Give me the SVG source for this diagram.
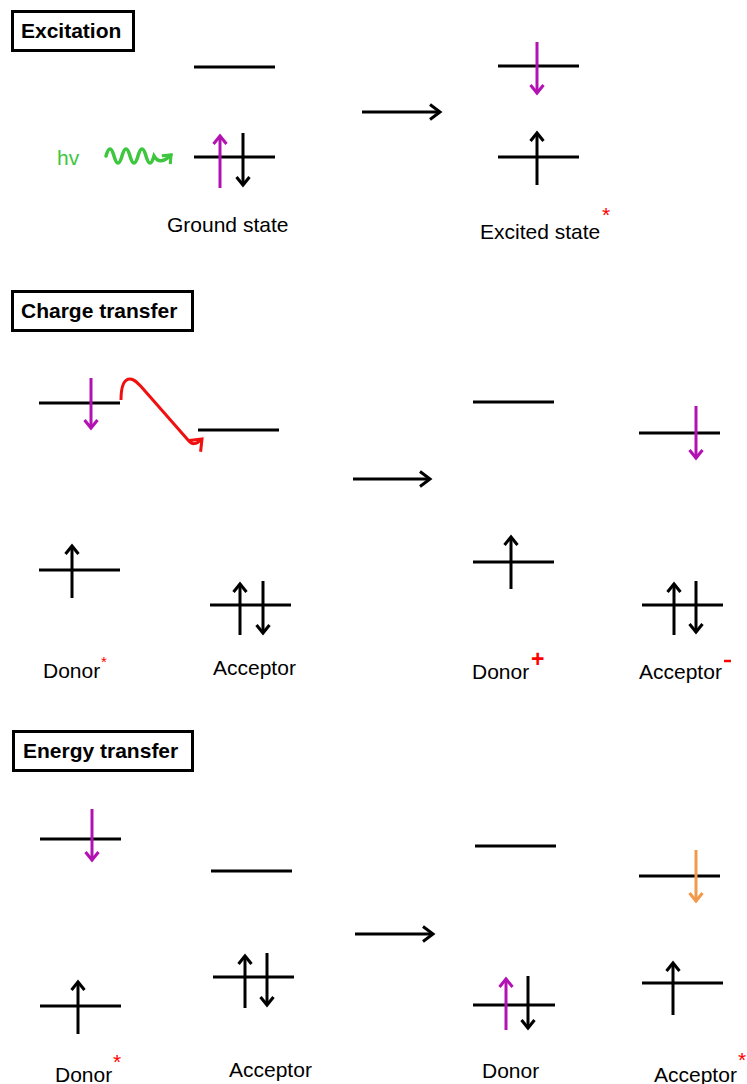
<svg xmlns="http://www.w3.org/2000/svg" width="747" height="1084" viewBox="0 0 747 1084">
  <style>
    .title { font-family: "Liberation Sans", Arial, sans-serif; font-weight: bold; font-size: 21px; fill: #000; }
    .label { font-family: "Liberation Sans", Arial, sans-serif; font-size: 21px; fill: #000; }
    .box { fill: #fff; stroke: #000; stroke-width: 3; }
    .lvl { stroke: #000; stroke-width: 3; fill: none; }
    .ek { stroke: #000; stroke-width: 3; fill: none; marker-end: url(#mk); }
    .ep { stroke: #b312b3; stroke-width: 3; fill: none; marker-end: url(#mp); }
    .eo { stroke: #f39a4a; stroke-width: 3; fill: none; marker-end: url(#mo); }
    .proc { stroke: #000; stroke-width: 3; fill: none; marker-end: url(#mbig); }
    .mark { font-family: "Liberation Sans", Arial, sans-serif; fill: #f00; }
  </style>
  <defs>
    <marker id="mk" markerUnits="userSpaceOnUse" viewBox="-12 -10 16 20" refX="0" refY="0" markerWidth="16" markerHeight="20" orient="auto" overflow="visible">
      <path d="M-8,-6.5 L0,0 L-8,6.5" fill="none" stroke="#000" stroke-width="3"/>
    </marker>
    <marker id="mp" markerUnits="userSpaceOnUse" viewBox="-12 -10 16 20" refX="0" refY="0" markerWidth="16" markerHeight="20" orient="auto" overflow="visible">
      <path d="M-8,-6.5 L0,0 L-8,6.5" fill="none" stroke="#b312b3" stroke-width="3"/>
    </marker>
    <marker id="mo" markerUnits="userSpaceOnUse" viewBox="-12 -10 16 20" refX="0" refY="0" markerWidth="16" markerHeight="20" orient="auto" overflow="visible">
      <path d="M-8,-6.5 L0,0 L-8,6.5" fill="none" stroke="#f39a4a" stroke-width="3"/>
    </marker>
    <marker id="mr" markerUnits="userSpaceOnUse" viewBox="-14 -12 18 24" refX="0" refY="0" markerWidth="18" markerHeight="24" orient="auto" overflow="visible">
      <path d="M-10,-8 L0,0 L-10,8" fill="none" stroke="#f01010" stroke-width="3"/>
    </marker>
    <marker id="mg" markerUnits="userSpaceOnUse" viewBox="-12 -10 16 20" refX="0" refY="0" markerWidth="16" markerHeight="20" orient="auto" overflow="visible">
      <path d="M-7,-6 L0,0 L-7,6" fill="none" stroke="#3ec63e" stroke-width="3"/>
    </marker>
    <marker id="mbig" markerUnits="userSpaceOnUse" viewBox="-14 -10 18 20" refX="0" refY="0" markerWidth="18" markerHeight="20" orient="auto" overflow="visible">
      <path d="M-10,-7.5 L0,0 L-10,7.5" fill="none" stroke="#000" stroke-width="3"/>
    </marker>
  </defs>

  <rect width="747" height="1084" fill="#fff"/>

  <!-- Section titles -->
  <g id="title-excitation">
    <rect class="box" x="12.5" y="11.5" width="121" height="39"/>
    <text class="title" x="21" y="38">Excitation</text>
  </g>
  <g id="title-charge-transfer">
    <rect class="box" x="12.5" y="291.5" width="180" height="39"/>
    <text class="title" x="21" y="318">Charge transfer</text>
  </g>
  <g id="title-energy-transfer">
    <rect class="box" x="13.5" y="731.5" width="179" height="39"/>
    <text class="title" x="23" y="758">Energy transfer</text>
  </g>

  <!-- Excitation -->
  <g id="hv">
    <text x="57" y="165" font-family="Liberation Sans, Arial, sans-serif" font-size="21" fill="#3ec63e">hv</text>
  </g>
  <g id="ground-state">
    <line class="lvl" x1="194" y1="67" x2="275" y2="67"/>
    <line class="lvl" x1="194" y1="157" x2="275" y2="157"/>
    <line class="ep" x1="220" y1="188" x2="220" y2="136"/>
    <line class="ek" x1="243" y1="133" x2="243" y2="185"/>
    <text class="label" x="167" y="232">Ground state</text>
  </g>
  <g id="excited-state">
    <line class="lvl" x1="498" y1="66" x2="579" y2="66"/>
    <line class="lvl" x1="498" y1="157" x2="579" y2="157"/>
    <line class="ep" x1="537" y1="42" x2="537" y2="93"/>
    <line class="ek" x1="537" y1="185" x2="537" y2="133"/>
    <text class="label" x="480" y="239">Excited state</text>
    <text class="mark" x="602" y="222" font-size="21">*</text>
  </g>

  <!-- Charge transfer, before -->
  <g id="ct-donor-excited">
    <line class="lvl" x1="39" y1="403" x2="120" y2="403"/>
    <line class="lvl" x1="39" y1="570" x2="120" y2="570"/>
    <line class="ep" x1="91" y1="378" x2="91" y2="428"/>
    <line class="ek" x1="72" y1="598" x2="72" y2="546"/>
    <text class="label" x="43" y="678">Donor</text>
    <text class="mark" x="101" y="667" font-size="15">*</text>
  </g>
  <g id="ct-acceptor">
    <line class="lvl" x1="198" y1="430" x2="279" y2="430"/>
    <line class="lvl" x1="210" y1="605" x2="291" y2="605"/>
    <line class="ek" x1="240" y1="635" x2="240" y2="584"/>
    <line class="ek" x1="263" y1="581" x2="263" y2="633"/>
    <text class="label" x="213" y="675">Acceptor</text>
  </g>

  <!-- Charge transfer, after -->
  <g id="ct-donor-cation">
    <line class="lvl" x1="473" y1="402" x2="554" y2="402"/>
    <line class="lvl" x1="473" y1="562" x2="554" y2="562"/>
    <line class="ek" x1="511" y1="589" x2="511" y2="537"/>
    <text class="label" x="472" y="679">Donor</text>
    <text class="mark" x="531" y="667" font-size="23" font-weight="bold">+</text>
  </g>
  <g id="ct-acceptor-anion">
    <line class="lvl" x1="639" y1="433" x2="720" y2="433"/>
    <line class="lvl" x1="642" y1="605" x2="723" y2="605"/>
    <line class="ep" x1="696" y1="406" x2="696" y2="458"/>
    <line class="ek" x1="674" y1="635" x2="674" y2="584"/>
    <line class="ek" x1="696" y1="581" x2="696" y2="632"/>
    <text class="label" x="639" y="679">Acceptor</text>
    <line x1="724" y1="661" x2="731" y2="661" stroke="#f00" stroke-width="2.5"/>
  </g>

  <!-- Energy transfer, before -->
  <g id="et-donor-excited">
    <line class="lvl" x1="40" y1="839" x2="121" y2="839"/>
    <line class="lvl" x1="40" y1="1006" x2="121" y2="1006"/>
    <line class="ep" x1="92" y1="809" x2="92" y2="860"/>
    <line class="ek" x1="78" y1="1034" x2="78" y2="982"/>
    <text class="label" x="55" y="1082">Donor</text>
    <text class="mark" x="113" y="1069" font-size="21">*</text>
  </g>
  <g id="et-acceptor">
    <line class="lvl" x1="211" y1="871" x2="292" y2="871"/>
    <line class="lvl" x1="213" y1="977" x2="294" y2="977"/>
    <line class="ek" x1="245" y1="1008" x2="245" y2="956"/>
    <line class="ek" x1="267" y1="953" x2="267" y2="1005"/>
    <text class="label" x="229" y="1077">Acceptor</text>
  </g>

  <!-- Energy transfer, after -->
  <g id="et-donor">
    <line class="lvl" x1="475" y1="846" x2="556" y2="846"/>
    <line class="lvl" x1="473" y1="1005" x2="555" y2="1005"/>
    <line class="ep" x1="506" y1="1030" x2="506" y2="979"/>
    <line class="ek" x1="528" y1="976" x2="528" y2="1028"/>
    <text class="label" x="482" y="1078">Donor</text>
  </g>
  <g id="et-acceptor-excited">
    <line class="lvl" x1="639" y1="876" x2="720" y2="876"/>
    <line class="lvl" x1="642" y1="983" x2="723" y2="983"/>
    <line class="eo" x1="696" y1="850" x2="696" y2="901"/>
    <line class="ek" x1="673" y1="1015" x2="673" y2="963"/>
    <text class="label" x="654" y="1082">Acceptor</text>
    <text class="mark" x="738" y="1067" font-size="21">*</text>
  </g>

  <!-- Connectors: photon, electron hop and process arrows -->
  <g id="connectors">
    <path d="M106,156 Q110,142 114,156 T122,156 T130,156 T138,156 T146,156 T154,156 Q160,166 171,155" fill="none" stroke="#3ec63e" stroke-width="3.5" stroke-linecap="round" marker-end="url(#mg)"/>
    <path d="M121,400 C121,386 124,379 130,379 C135,379 140,385 145,391 L188,440 C192,445 196,445 202,439" fill="none" stroke="#f01010" stroke-width="3" marker-end="url(#mr)"/>
    <line class="proc" x1="362" y1="112" x2="440" y2="112"/>
    <line class="proc" x1="353" y1="479" x2="430" y2="479"/>
    <line class="proc" x1="355" y1="934" x2="433" y2="934"/>
  </g>
</svg>
